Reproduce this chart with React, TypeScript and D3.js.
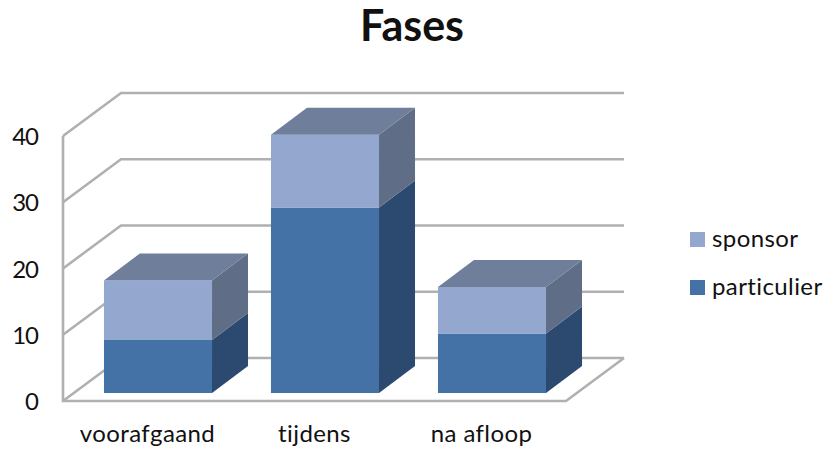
import React from "react";
import * as d3 from "d3";

const title = "Fases";
const categories = ["voorafgaand", "tijdens", "na afloop"];
const particulier = [8, 28, 9];
const sponsor = [9, 11, 7];
const yTicks = [0, 10, 20, 30, 40];
const legendItems = ["sponsor", "particulier"];

const FONT = "Lato, Carlito, 'Open Sans', sans-serif";
const GRID = "#b0b0b0";
const INK = "#111111";

// Oblique projection offsets: the back wall and the bar depth.
const WALL_DX = 58;
const WALL_DY = -43;
const BAR_DX = 36;
const BAR_DY = -27;

const FRONT_LEFT = 63;
const FRONT_RIGHT = 566;
const FRONT_BASE = 401;
const BAR_BASE = 393;
const UNIT_SPAN = 265;

const wallY = d3.scaleLinear().domain([0, 40]).range([FRONT_BASE, FRONT_BASE - UNIT_SPAN]);
const barY = d3.scaleLinear().domain([0, 40]).range([BAR_BASE, BAR_BASE - UNIT_SPAN]);
const barX = d3
  .scaleBand<string>()
  .domain(categories)
  .range([74.5, 575.5])
  .paddingInner(0.353)
  .paddingOuter(0.1765);

const shades = {
  particulier: { front: "#4471a6", side: "#2c4a70", top: "#3a5a86" },
  sponsor: { front: "#94a8cf", side: "#5f6e86", top: "#6f7e9b" },
};

const poly = (pts: [number, number][]) => d3.line()(pts) + "Z";

function Block({ x, w, y0, y1, colors, showTop }: any) {
  return (
    <g>
      <path d={poly([[x, y0], [x + w, y0], [x + w, y1], [x, y1]])} fill={colors.front} />
      <path
        d={poly([[x + w, y0], [x + w + BAR_DX, y0 + BAR_DY], [x + w + BAR_DX, y1 + BAR_DY], [x + w, y1]])}
        fill={colors.side}
      />
      {showTop && (
        <path
          d={poly([[x, y1], [x + w, y1], [x + w + BAR_DX, y1 + BAR_DY], [x + BAR_DX, y1 + BAR_DY]])}
          fill={colors.top}
        />
      )}
    </g>
  );
}

export default function App() {
  const bw = barX.bandwidth();
  return (
    <svg
      width={825}
      height={450}
      style={{ position: "absolute", left: 0, top: 0, background: "#fff" }}
      fontFamily={FONT}
    >
      <text x={412} y={41} textAnchor="middle" fontSize={43} fontWeight={700} fill={INK}>
        {title}
      </text>

      {/* Wall gridlines, running from the front edge to the back wall */}
      {yTicks.map((t) => {
        const y = wallY(t);
        const pts: [number, number][] = [
          [FRONT_LEFT, y],
          [FRONT_LEFT + WALL_DX, y + WALL_DY],
          [FRONT_RIGHT + WALL_DX, y + WALL_DY],
        ];
        return <path key={t} d={d3.line()(pts)!} fill="none" stroke={GRID} strokeWidth={2.6} />;
      })}

      {/* Floor outline and vertical axis */}
      <path
        d={d3.line()([
          [FRONT_LEFT, wallY(40)],
          [FRONT_LEFT, wallY(0)],
          [FRONT_RIGHT, wallY(0)],
          [FRONT_RIGHT + WALL_DX, wallY(0) + WALL_DY],
        ])!}
        fill="none"
        stroke={GRID}
        strokeWidth={2.6}
      />

      {/* Stacked 3D bars */}
      {categories.map((c, i) => {
        const x = barX(c)!;
        const mid = barY(particulier[i]);
        const top = barY(particulier[i] + sponsor[i]);
        return (
          <g key={c}>
            <Block x={x} w={bw} y0={barY(0)} y1={mid} colors={shades.particulier} showTop={false} />
            <Block x={x} w={bw} y0={mid} y1={top} colors={shades.sponsor} showTop />
          </g>
        );
      })}

      {/* Value labels */}
      {yTicks.map((t) => (
        <text key={t} x={38} y={wallY(t) + 9} textAnchor="end" fontSize={24} letterSpacing={-1} fill={INK}>
          {t}
        </text>
      ))}

      {/* Category labels */}
      {categories.map((c) => (
        <text
          key={c}
          x={barX(c)! + bw / 2 - 10.5}
          y={442}
          textAnchor="middle"
          fontSize={24}
          letterSpacing={0.4}
          fill={INK}
        >
          {c}
        </text>
      ))}

      {/* Legend */}
      {legendItems.map((name, i) => {
        const y = 232 + i * 48;
        const fill = name === "sponsor" ? shades.sponsor.front : shades.particulier.front;
        return (
          <g key={name}>
            <rect x={690} y={y} width={15} height={15} fill={fill} />
            <text x={712} y={y + 15} fontSize={24} letterSpacing={0.4} fill={INK}>
              {name}
            </text>
          </g>
        );
      })}
    </svg>
  );
}
